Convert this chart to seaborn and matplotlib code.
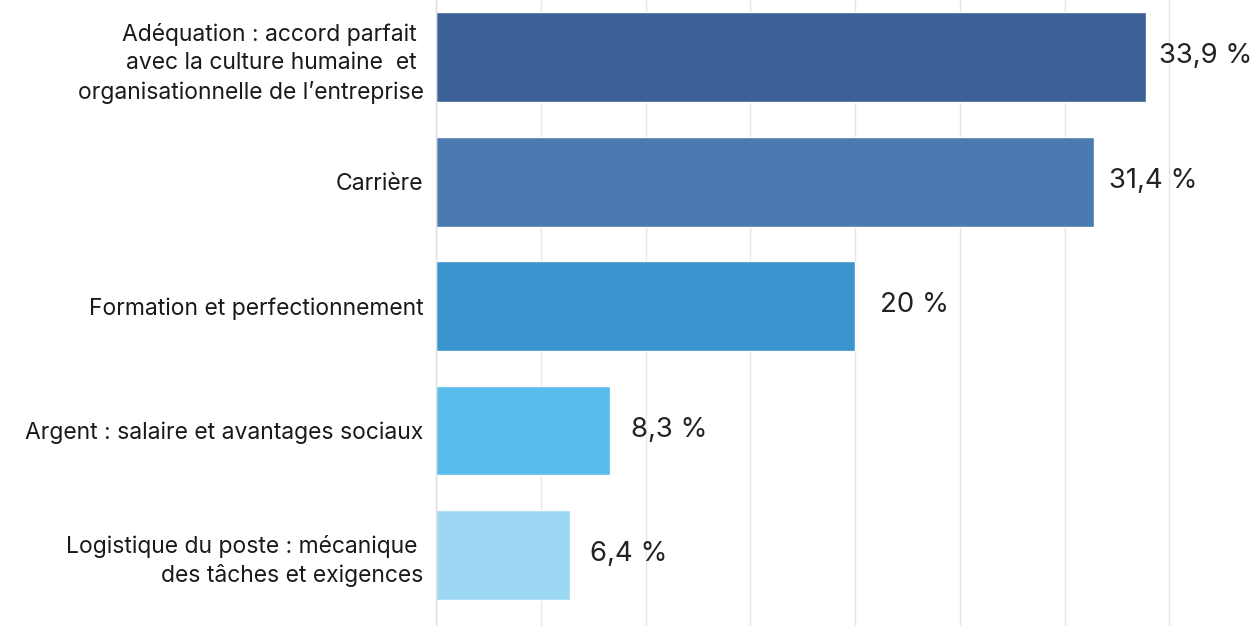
import matplotlib
matplotlib.use("Agg")
import matplotlib.pyplot as plt
import seaborn as sns
import pandas as pd
from matplotlib import transforms

categories = [
    "Adéquation : accord parfait \navec la culture humaine  et \norganisationnelle de l\u2019entreprise",
    "Carrière",
    "Formation et perfectionnement",
    "Argent : salaire et avantages sociaux",
    "Logistique du poste : mécanique \ndes tâches et exigences",
]
values = [33.9, 31.4, 20.0, 8.3, 6.4]
value_labels = ["33,9 %", "31,4 %", "20 %", "8,3 %", "6,4 %"]
colors = ["#3A6095", "#4A7AB0", "#3A95CE", "#58BDEC", "#9CD7F3"]

sns.set_theme(style="white")
plt.rcParams["font.family"] = ["Inter", "DejaVu Sans"]

df = pd.DataFrame({"cat": categories, "val": values})

fig = plt.figure(figsize=(12.57, 6.26), dpi=100)
ax = fig.add_axes([436 / 1257, 0.0, (1257 - 436) / 1257, 1.0])

sns.barplot(data=df, y="cat", x="val", hue="cat", palette=colors, legend=False,
            orient="h", width=0.72, ax=ax, saturation=1)

ax.set_xlim(0, (1257 - 436) / 20.95)
ax.set_ylim(4.57, -0.46)
ax.set_xticks([0, 5, 10, 15, 20, 25, 30, 35])
ax.xaxis.grid(True, color="#E6E6E6", linewidth=1)
ax.set_axisbelow(True)
ax.tick_params(axis="x", bottom=False, labelbottom=False)
ax.tick_params(axis="y", left=False, pad=3, labelsize=16.5, labelcolor="#1a1a1a")
for t in ax.get_yticklabels():
    t.set_linespacing(1.37)
ax.set_xlabel("")
ax.set_ylabel("")
for s in ["top", "right", "bottom"]:
    ax.spines[s].set_visible(False)
ax.spines["left"].set_color("#E0E0E0")
ax.spines["left"].set_linewidth(1)

for i, (v, lab) in enumerate(zip(values, value_labels)):
    tr = transforms.offset_copy(ax.transData, fig=fig, x=59, y=1, units="dots")
    ax.text(v, i, lab, transform=tr, ha="center", va="center",
            fontsize=19.8, fontweight="normal", color="#222222")

fig.savefig("out.png", dpi=100)
